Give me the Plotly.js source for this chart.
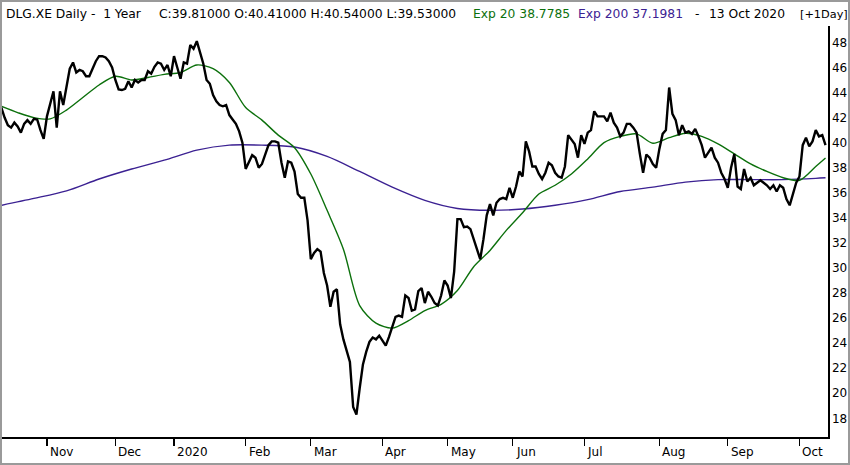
<!DOCTYPE html>
<html><head><meta charset="utf-8">
<script src="https://cdn.plot.ly/plotly-3.0.1.min.js"></script>
<style>html,body{margin:0;padding:0;background:#fff}#c{width:850px;height:465px}</style>
</head><body><div id="c"></div>
<script>
// ---- data ----
const startDate = "2019-10-14", endDate = "2020-10-13";
const holidays = ["2019-12-24","2019-12-25","2019-12-26","2019-12-31","2020-01-01","2020-04-10","2020-04-13","2020-05-01"];
const closes = [
42.8,42.0,41.4,41.2,41.6,41.3,40.8,41.5,41.8,41.5,
41.9,41.85,41.0,40.3,42.1,43.0,44.1,41.2,44.1,43.0,
44.5,45.9,46.4,45.6,45.8,45.7,45.3,45.3,45.9,46.5,
46.9,46.9,46.8,46.5,46.0,45.0,44.25,44.2,44.3,44.9,
44.4,45.0,44.8,45.0,45.0,45.7,45.5,46.05,46.4,46.3,
45.8,46.2,45.3,46.9,46.0,45.1,46.4,46.3,47.8,47.5,
48.1,47.2,46.3,45.0,44.7,43.8,43.3,43.0,42.9,43.0,
42.2,41.85,41.5,40.9,40.0,37.9,38.4,39.0,38.8,38.0,
38.3,39.1,39.8,40.1,40.1,40.0,38.4,37.2,38.5,38.4,
37.7,35.9,35.6,35.6,33.8,30.7,31.2,31.5,31.3,29.6,
28.6,26.9,28.1,28.3,25.5,24.3,23.3,22.5,18.9,18.3,
20.4,22.3,23.3,24.1,24.45,24.3,24.6,24.2,23.8,24.5,
25.3,26.1,26.2,26.1,27.8,27.6,26.6,26.7,28.15,28.4,
27.2,28.1,27.7,27.2,27.0,27.8,29.0,28.6,27.6,29.7,
33.9,33.9,33.25,33.3,33.1,32.3,31.5,30.7,32.3,34.2,
35.1,34.2,35.2,35.5,35.6,35.5,36.4,35.6,36.5,37.7,
37.3,40.1,39.3,38.1,38.1,37.5,37.1,37.6,38.4,38.2,
37.6,37.3,37.2,38.1,40.6,40.2,39.9,38.8,40.6,39.9,
40.8,41.0,42.5,42.1,42.1,42.1,41.7,42.4,41.6,41.2,
40.5,40.8,41.5,41.5,41.2,40.8,39.1,37.6,39.05,38.8,
38.3,38.0,39.5,40.7,41.0,44.4,42.3,41.8,40.6,41.4,
40.8,40.9,40.7,41.1,40.5,39.8,38.8,39.2,39.6,38.8,
38.4,37.6,37.1,36.4,38.0,39.1,36.5,36.3,37.9,36.9,
37.2,36.6,36.8,37.0,36.8,36.6,36.3,36.6,36.1,36.6,
36.4,35.5,35.0,35.9,36.8,37.3,39.8,40.4,39.7,40.1,
41.0,40.5,40.6,39.81];
const ema20Idx = [0,5,10,15,20,25,30,35,40,45,50,55,60,65,70,75,80,85,90,95,100,105,110,115,120,125,130,135,140,145,150,155,160,165,170,175,180,185,190,195,200,205,210,215,220,225,230,235,240,245,250,253];
const ema20Val = [42.9,42.4,42.0,41.9,42.6,43.6,44.6,45.3,45.0,45.2,45.45,45.6,46.2,45.9,44.8,42.8,41.8,40.6,39.6,37.5,34.6,31.5,27.0,25.6,25.2,25.8,26.6,27.1,28.2,30.1,31.4,33.0,34.4,35.9,36.6,37.5,38.7,40.0,40.5,40.7,39.95,40.4,40.75,40.5,39.9,39.1,38.3,37.7,37.2,37.0,38.1,38.7785];
const ema200Idx = [0,10,20,30,40,50,60,70,80,90,100,110,120,130,140,150,160,170,180,190,200,210,220,230,240,250,253];
const ema200Val = [35.0,35.55,36.15,37.1,37.9,38.6,39.4,39.8,39.8,39.65,38.9,37.7,36.45,35.4,34.75,34.6,34.7,35.0,35.45,36.1,36.45,36.85,37.05,37.05,37.05,37.15,37.1981];
const tickDates = ["2019-11-01","2019-12-02","2020-01-02","2020-02-03","2020-03-02","2020-04-01","2020-05-04","2020-06-01","2020-07-01","2020-08-03","2020-09-01","2020-10-01"];
const tickLabels = ["Nov","Dec","2020","Feb","Mar","Apr","May","Jun","Jul","Aug","Sep","Oct"];
const yTicks = [18,20,22,24,26,28,30,32,34,36,38,40,42,44,46,48];

// trading calendar (weekdays minus exchange holidays)
const dates = [];
for (let d = new Date(startDate + "T00:00:00Z"); d <= new Date(endDate + "T00:00:00Z"); d.setUTCDate(d.getUTCDate() + 1)) {
  const wd = d.getUTCDay(); const s = d.toISOString().slice(0, 10);
  if (wd !== 0 && wd !== 6 && holidays.indexOf(s) < 0) dates.push(s);
}

const W = 850, H = 465, ML = 2, MR = 22, MT = 26, MB = 28;
const PW = W - ML - MR, PH = H - MT - MB;
const FONT = "DejaVu Sans";
const px = p => (p - ML) / PW;
const py = p => 1 - (p - MT) / PH;

const traces = [
  {x: ema200Idx.map(i => dates[i]), y: ema200Val, mode: 'lines', line: {color: '#3b2192', width: 1.4, shape: 'spline', smoothing: 0.8}, hoverinfo: 'skip'},
  {x: ema20Idx.map(i => dates[i]), y: ema20Val, mode: 'lines', line: {color: '#0c700c', width: 1.4, shape: 'spline', smoothing: 0.8}, hoverinfo: 'skip'},
  {x: dates, y: closes, mode: 'lines', line: {color: '#000000', width: 2.4}}
];

const hdr = [
  {t: "DLG.XE Daily -  1 Year", x: 4, c: '#000', s: 12.3},
  {t: "C:39.81000 O:40.41000 H:40.54000 L:39.53000", x: 157, c: '#000', s: 12.3},
  {t: "Exp 20 38.7785", x: 471, c: '#0c700c', s: 12.3},
  {t: "Exp 200 37.1981", x: 576, c: '#3b2192', s: 12.3},
  {t: "-", x: 693, c: '#000', s: 12.3},
  {t: "13 Oct 2020", x: 707, c: '#000', s: 12.3},
  {t: "[+1Day]", x: 798, c: '#000', s: 11.3}
];

const annotations = hdr.map(h => ({text: h.t, xref: 'paper', yref: 'paper', x: px(h.x), y: py(14),
    xanchor: 'left', yanchor: 'middle', showarrow: false, font: {family: FONT, size: h.s, color: h.c}}));
tickDates.forEach((d, k) => annotations.push({text: tickLabels[k], xref: 'x', yref: 'paper', x: d, y: py(452),
    xanchor: 'left', yanchor: 'middle', xshift: 1, showarrow: false, font: {family: FONT, size: 12, color: '#000'}}));

const r0 = 0.2, s = 3.2576;
const layout = {
  width: W, height: H, showlegend: false,
  paper_bgcolor: '#fff', plot_bgcolor: '#fff',
  margin: {l: ML, r: MR, t: MT, b: MB, pad: 0},
  font: {family: FONT, size: 12, color: '#000'},
  xaxis: {type: 'category', categoryorder: 'array', categoryarray: dates,
    range: [r0, r0 + PW / s], tickvals: tickDates, ticktext: tickLabels, showticklabels: false,
    ticks: 'outside', ticklen: 7, tickwidth: 1.3, tickcolor: '#000',
    showline: true, linecolor: '#000', linewidth: 1.5, showgrid: false, zeroline: false, fixedrange: true},
  yaxis: {side: 'right', range: [16.51, 49.31], tickvals: yTicks, ticks: '', showline: true,
    linecolor: '#000', linewidth: 1.5, showgrid: false, zeroline: false,
    tickfont: {family: FONT, size: 12, color: '#000'}, fixedrange: true},
  annotations: annotations,
  shapes: [
    {type: 'rect', xref: 'paper', yref: 'paper', x0: px(1), x1: px(849), y0: py(1), y1: py(464),
      line: {color: '#9a9a9a', width: 2}, fillcolor: 'rgba(0,0,0,0)', layer: 'above'}
  ]
};
Plotly.newPlot('c', traces, layout, {staticPlot: true});
</script></body></html>
